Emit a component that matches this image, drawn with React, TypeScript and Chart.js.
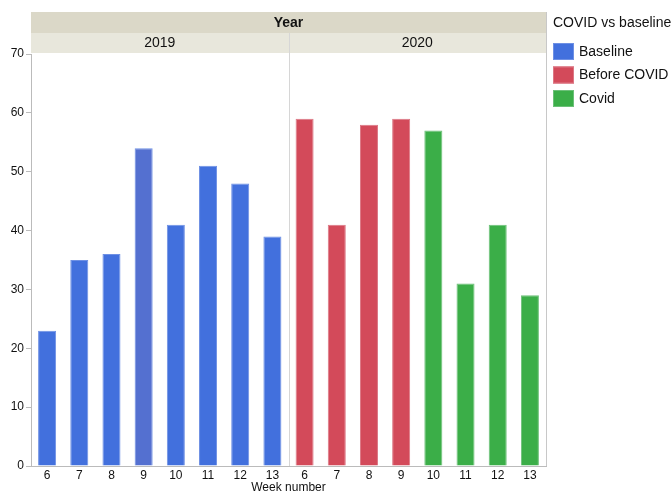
import React, { useEffect, useRef } from "react";
import { Chart, registerables } from "chart.js";

Chart.register(...registerables);

const weeks = ["6", "7", "8", "9", "10", "11", "12", "13", "6", "7", "8", "9", "10", "11", "12", "13"];
const years = ["2019", "2020"];
const groups = [
  "Baseline", "Baseline", "Baseline", "Baseline", "Baseline", "Baseline", "Baseline", "Baseline",
  "Before COVID", "Before COVID", "Before COVID", "Before COVID", "Covid", "Covid", "Covid", "Covid",
];
const counts = [23, 35, 36, 54, 41, 51, 48, 39, 59, 41, 58, 59, 57, 31, 41, 29];
const legendNames = ["Baseline", "Before COVID", "Covid"];
const legendColors = ["#4270dd", "#d34a5a", "#3bae48"];
const legendBorders = ["#6e90e4", "#dc7784", "#6cc078"];
const yTicks = [0, 10, 20, 30, 40, 50, 60, 70];

const FONT = "'Liberation Sans', Arial, Helvetica, sans-serif";

const headerPlugin = {
  id: "headerPlugin",
  beforeDatasetsDraw(chart: any) {
    const { ctx, chartArea } = chart;
    const mid = (chartArea.left + chartArea.right) / 2;
    ctx.save();
    ctx.strokeStyle = "#d6d6d6";
    ctx.lineWidth = 1;
    ctx.beginPath();
    ctx.moveTo(Math.round(mid) + 0.5, 33);
    ctx.lineTo(Math.round(mid) + 0.5, chartArea.bottom);
    ctx.stroke();
    ctx.strokeStyle = "#c8c8c8";
    ctx.beginPath();
    ctx.moveTo(Math.round(chartArea.right) + 0.5, 12);
    ctx.lineTo(Math.round(chartArea.right) + 0.5, chartArea.bottom);
    ctx.stroke();
    ctx.restore();
  },
  afterDraw(chart: any) {
    const { ctx, chartArea } = chart;
    const left = chartArea.left;
    const right = chartArea.right;
    const mid = (left + right) / 2;
    ctx.save();
    ctx.fillStyle = "#dbd8c8";
    ctx.fillRect(left, 12, right - left, 21);
    ctx.fillStyle = "#e8e7dc";
    ctx.fillRect(left, 33, right - left, 20);
    ctx.strokeStyle = "#d6d6d6";
    ctx.lineWidth = 1;
    ctx.beginPath();
    ctx.moveTo(Math.round(mid) + 0.5, 33);
    ctx.lineTo(Math.round(mid) + 0.5, 53);
    ctx.stroke();
    ctx.strokeStyle = "#c8c8c8";
    ctx.beginPath();
    ctx.moveTo(Math.round(right) + 0.5, 12);
    ctx.lineTo(Math.round(right) + 0.5, 53);
    ctx.stroke();
    ctx.fillStyle = "#111";
    ctx.textAlign = "center";
    ctx.textBaseline = "middle";
    ctx.font = `bold 14px ${FONT}`;
    ctx.fillText("Year", mid, 23);
    ctx.font = `14px ${FONT}`;
    ctx.fillText(years[0], (left + mid) / 2, 43.5);
    ctx.fillText(years[1], (mid + right) / 2, 43.5);

    const lx = 553;
    ctx.textAlign = "left";
    ctx.font = `14px ${FONT}`;
    ctx.fillText("COVID vs baseline", lx, 23);
    legendNames.forEach((name, i) => {
      const by = 43 + i * 23.5;
      ctx.fillStyle = legendColors[i];
      ctx.fillRect(lx, by, 21, 17);
      ctx.strokeStyle = legendBorders[i];
      ctx.lineWidth = 1;
      ctx.strokeRect(lx + 0.5, by + 0.5, 20, 16);
      ctx.fillStyle = "#111";
      ctx.fillText(name, lx + 26, by + 9);
    });
    ctx.restore();
  },
};

export default function App() {
  const ref = useRef<HTMLCanvasElement>(null);
  useEffect(() => {
    if (!ref.current) return;
    const colorFor = (i: number) => {
      if (i === 3) return "#5470d0";
      return legendColors[legendNames.indexOf(groups[i])];
    };
    const borderFor = (i: number) => legendBorders[legendNames.indexOf(groups[i])];
    const chart = new Chart(ref.current, {
      type: "bar",
      data: {
        labels: weeks,
        datasets: [
          {
            label: "Count",
            data: counts,
            backgroundColor: counts.map((_, i) => colorFor(i)),
            borderColor: counts.map((_, i) => borderFor(i)),
            borderWidth: 1,
            borderSkipped: "bottom",
            categoryPercentage: 1,
            barPercentage: 0.56,
          },
        ],
      },
      options: {
        animation: false,
        responsive: false,
        maintainAspectRatio: false,
        layout: { padding: { top: 54, right: 126, left: 0, bottom: 0 } },
        plugins: {
          legend: { display: false },
          tooltip: { enabled: false },
        },
        scales: {
          x: {
            grid: { display: false, drawTicks: false },
            border: { color: "#bbbbbb" },
            ticks: {
              color: "#111",
              font: { family: FONT, size: 12 },
              padding: 2,
              maxRotation: 0,
              autoSkip: false,
            },
            title: {
              display: true,
              text: "Week number",
              color: "#111",
              font: { family: FONT, size: 12 },
              padding: { top: 0, bottom: -2 },
            },
            afterFit(scale: any) {
              scale.height = 27;
            },
          },
          y: {
            min: 0,
            max: 70,
            afterBuildTicks(scale: any) {
              scale.ticks = yTicks.map((v) => ({ value: v }));
            },
            grid: {
              drawOnChartArea: false,
              drawTicks: true,
              tickLength: 5,
              color: "#bbbbbb",
            },
            border: { color: "#bbbbbb" },
            ticks: {
              color: "#111",
              font: { family: FONT, size: 12 },
              padding: 2,
            },
            afterFit(scale: any) {
              scale.width = 31;
            },
          },
        },
      },
      plugins: [headerPlugin],
    });
    return () => chart.destroy();
  }, []);
  return (
    <div style={{ position: "absolute", left: 0, top: 0, width: 672, height: 493, background: "#fff" }}>
      <canvas ref={ref} width={672} height={493} style={{ width: 672, height: 493 }} />
    </div>
  );
}
